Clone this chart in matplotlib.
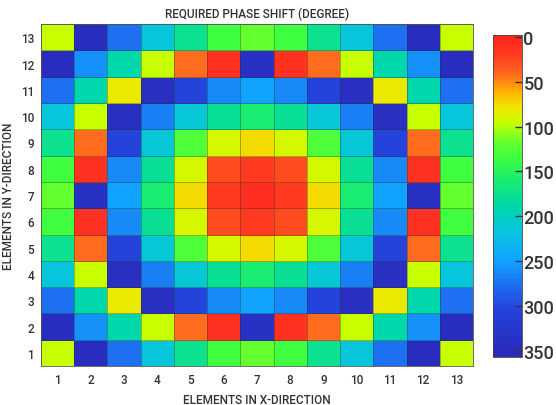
import numpy as np
import matplotlib
matplotlib.use("Agg")
import matplotlib.pyplot as plt
from matplotlib.colors import LinearSegmentedColormap, Normalize

# phase shift per element (degrees), rows from y=1 (bottom) to y=13 (top)
row_13 = [95, 345, 275, 215, 175, 135, 118, 135, 175, 215, 275, 345, 95]
row_12 = [345, 258, 190, 95, 42, 12, 338, 12, 42, 95, 190, 258, 345]
row_11 = [275, 190, 80, 342, 305, 262, 250, 262, 305, 342, 80, 190, 275]
row_10 = [215, 95, 342, 268, 212, 178, 160, 178, 212, 268, 342, 95, 215]
row_9 = [175, 42, 305, 212, 128, 90, 75, 90, 128, 212, 305, 42, 175]
row_8 = [135, 12, 262, 178, 90, 28, 20, 28, 90, 178, 262, 12, 135]
row_7 = [118, 338, 250, 160, 75, 20, 8, 20, 75, 160, 250, 338, 118]
row_6 = [135, 12, 262, 178, 90, 28, 20, 28, 90, 178, 262, 12, 135]
row_5 = [175, 42, 305, 212, 128, 90, 75, 90, 128, 212, 305, 42, 175]
row_4 = [215, 95, 342, 268, 212, 178, 160, 178, 212, 268, 342, 95, 215]
row_3 = [275, 190, 80, 342, 305, 262, 250, 262, 305, 342, 80, 190, 275]
row_2 = [345, 258, 190, 95, 42, 12, 338, 12, 42, 95, 190, 258, 345]
row_1 = [95, 345, 275, 215, 175, 135, 118, 135, 175, 215, 275, 345, 95]

elements = list(range(1, 14))
cbar_ticks = [0, 50, 100, 150, 200, 250, 300, 350]

phase = np.array([row_1, row_2, row_3, row_4, row_5, row_6, row_7,
                  row_8, row_9, row_10, row_11, row_12, row_13])

# red -> yellow -> green -> cyan -> blue, low phase is red
anchors = [
    (0.00, "#ff2420"),
    (0.06, "#ff3a20"),
    (0.12, "#ff6a1e"),
    (0.18, "#ffb800"),
    (0.225, "#eee800"),
    (0.27, "#c8ff00"),
    (0.335, "#60ff30"),
    (0.38, "#40ff40"),
    (0.45, "#18ec70"),
    (0.53, "#00d8a8"),
    (0.61, "#08c4e0"),
    (0.70, "#10a4ff"),
    (0.78, "#1e6cf0"),
    (0.86, "#2440d8"),
    (1.00, "#2a28b8"),
]
cmap = LinearSegmentedColormap.from_list("phase", anchors)
norm = Normalize(vmin=-2, vmax=357)

plt.rcParams["font.family"] = ["Roboto", "DejaVu Sans"]
plt.rcParams["font.weight"] = "medium"
txt = "#333333"

fig = plt.figure(figsize=(5.56, 4.06), dpi=100)
ax = fig.add_axes([0.0737, 0.0961, 0.777, 0.842])

x_edges = np.arange(0.5, 14.0, 1.0)
y_edges = np.arange(0.5, 14.0, 1.0)
mesh = ax.pcolormesh(x_edges, y_edges, phase, cmap=cmap, norm=norm,
                     edgecolors=(0.1, 0.2, 0.1, 0.35), linewidth=0.6)

ax.set_xlim(0.5, 13.5)
ax.set_ylim(0.5, 13.5)
ax.set_xticks(elements)
ax.set_yticks(elements)
ax.tick_params(length=0, labelsize=8.5, colors=txt, pad=5)
for s in ax.spines.values():
    s.set_linewidth(0.6)
    s.set_color("#555555")

ax.set_title("REQUIRED PHASE SHIFT (DEGREE)", fontsize=8.5, color=txt,
             pad=5, fontweight="medium")
ax.set_xlabel("ELEMENTS IN X-DIRECTION", fontsize=8.5, color=txt,
              labelpad=5, fontweight="medium")
ax.set_ylabel("ELEMENTS IN Y-DIRECTION", fontsize=8.5, color=txt,
              labelpad=4, fontweight="medium")

cax = fig.add_axes([0.887, 0.118, 0.052, 0.793])
cb = fig.colorbar(mesh, cax=cax, ticks=cbar_ticks)
cax.invert_yaxis()
cb.outline.set_linewidth(0.6)
cb.outline.set_edgecolor("#444444")
cax.tick_params(labelsize=13, colors=txt, length=5, width=1,
                direction="in", pad=1)

fig.savefig("out.png", dpi=100)
